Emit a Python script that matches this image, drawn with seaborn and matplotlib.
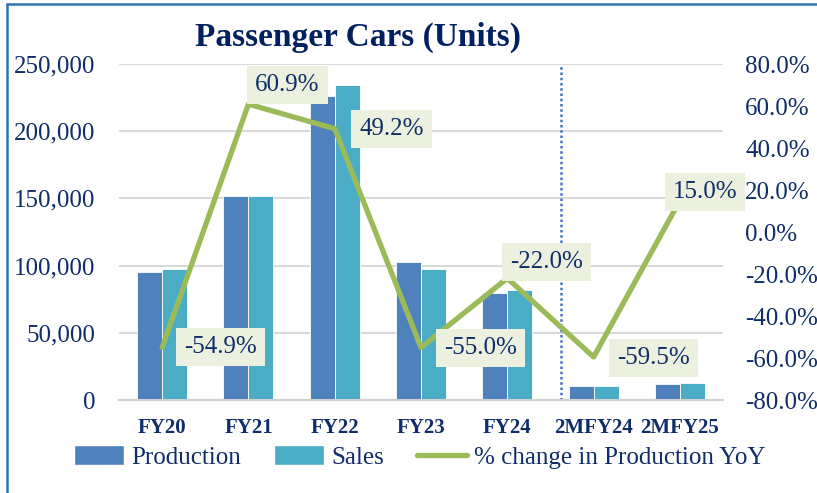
import pandas as pd
import numpy as np
import matplotlib.pyplot as plt
import seaborn as sns
from matplotlib.patches import Rectangle, Patch
from matplotlib.lines import Line2D
from matplotlib.ticker import FuncFormatter, FixedLocator

# data
periods = ['FY20', 'FY21', 'FY22', 'FY23', 'FY24', '2MFY24', '2MFY25']
production = [95200, 151800, 226400, 102700, 79800, 10600, 12100]
sales = [97500, 151500, 234100, 97500, 81800, 10200, 12900]
pct_change = [-54.9, 60.9, 49.2, -55.0, -22.0, -59.5, 15.0]
# label offsets (points) from each line point
label_offsets = [(42, 0), (28, 14), (41, 0), (43, 0), (28, 12), (43, -1), (18, 6)]

navy = '#0F2D69'
c_prod = '#4F81BD'
c_sales = '#4BACC6'
c_line = '#9BBB59'

sns.set_style('white')
plt.rcParams['font.family'] = ['Liberation Serif', 'DejaVu Serif']

df = pd.DataFrame({
    'period': periods * 2,
    'units': production + sales,
    'series': ['Production'] * len(periods) + ['Sales'] * len(periods),
})

fig = plt.figure(figsize=(8.17, 4.93), dpi=100)
ax = fig.add_axes([0.1457, 0.1886, 0.7393, 0.6815])

sns.barplot(data=df, x='period', y='units', hue='series', order=periods,
            palette=[c_prod, c_sales], width=0.58, ax=ax, legend=False,
            saturation=1, edgecolor='white', linewidth=0.6)

ax.set_ylim(0, 250000)
ax.set_xlim(-0.5, len(periods) - 0.5)
ax.set_yticks(np.arange(0, 250001, 50000))
ax.yaxis.set_major_formatter(FuncFormatter(lambda v, p: f'{int(v):,}'))
ax.grid(axis='y', color='#D9D9D9', linewidth=1.5)
ax.set_axisbelow(True)
for s in ['top', 'right', 'left']:
    ax.spines[s].set_visible(False)
ax.spines['bottom'].set_color('#D0D0D0')
ax.spines['bottom'].set_linewidth(1.5)
ax.set_xlabel('')
ax.set_ylabel('')
ax.tick_params(axis='y', length=0, pad=17, labelsize=18, labelcolor=navy)
ax.tick_params(axis='x', which='major', length=0, pad=13, labelsize=15, labelcolor=navy)
for t in ax.get_xticklabels():
    t.set_fontweight('bold')
ax.xaxis.set_minor_locator(FixedLocator(np.arange(-0.5, len(periods), 1)))
ax.tick_params(axis='x', which='minor', length=7, width=1.5, color='#D0D0D0')

# separator between full-year and 2-month figures
ax.axvline(4.62, color='#4472C4', linestyle=(0, (1, 1.1)), linewidth=1.8)

ax2 = ax.twinx()
xs = np.arange(len(periods))
sns.lineplot(x=xs, y=pct_change, ax=ax2, color=c_line, linewidth=3.8, legend=False)
ax2.set_ylim(-80, 80)
ax2.set_yticks(np.arange(-80, 81, 20))
ax2.yaxis.set_major_formatter(FuncFormatter(lambda v, p: f'{v:.1f}%'))
ax2.tick_params(axis='y', length=0, pad=16, labelsize=18, labelcolor=navy)
for s in ax2.spines.values():
    s.set_visible(False)
ax2.set_ylabel('')

for x, v, off in zip(xs, pct_change, label_offsets):
    ax2.annotate(f'{v:.1f}%', (x, v), xytext=off, textcoords='offset points',
                 ha='center', va='center', fontsize=18, color=navy,
                 bbox=dict(boxstyle='square,pad=0.32', facecolor='#EBF1DE',
                           edgecolor='none'))

fig.text(0.438, 0.925, 'Passenger Cars (Units)', ha='center', va='center',
         fontsize=24, fontweight='bold', color='#002060')

handles = [Patch(facecolor=c_prod), Patch(facecolor=c_sales),
           Line2D([0], [0], color=c_line, linewidth=3.8)]
fig.legend(handles, ['Production', 'Sales', '% change in Production YoY'],
           loc='center', bbox_to_anchor=(0.514, 0.073), ncol=3, frameon=False,
           fontsize=18, labelcolor=navy, handlelength=2.0, handleheight=0.8,
           columnspacing=1.3, handletextpad=0.3)

# chart frame (left and top edges visible in the crop)
fig.patches.append(Rectangle((7 / 817, -0.1), 1.2, 1.1 - 4 / 493, fill=False,
                             edgecolor='#2E75B6', linewidth=1.8,
                             transform=fig.transFigure, figure=fig))

fig.savefig('out.png', dpi=100)
